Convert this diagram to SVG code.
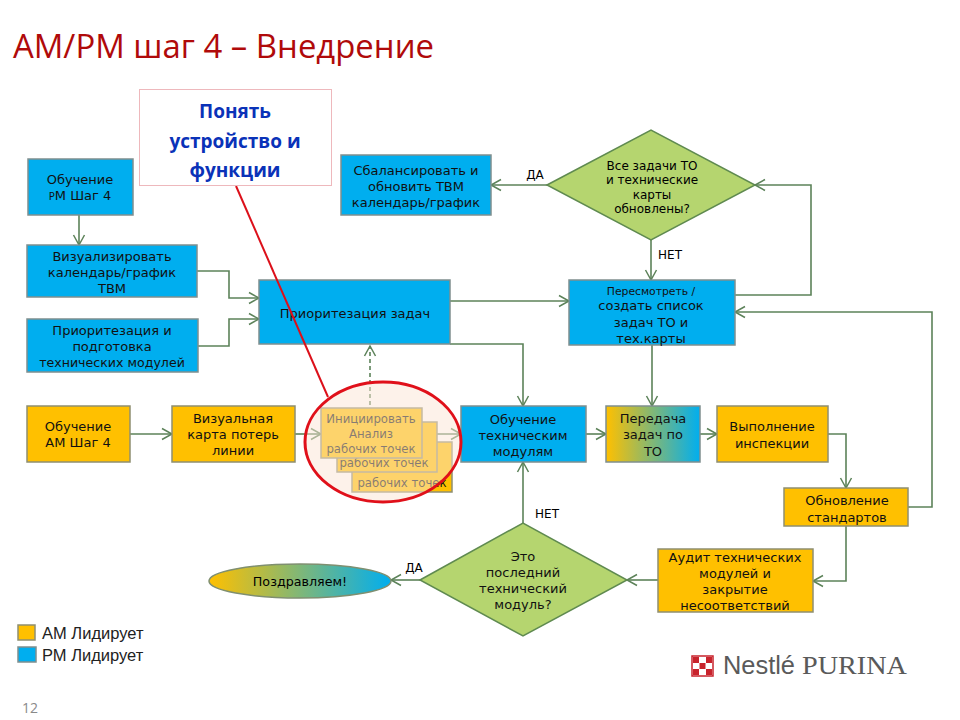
<svg xmlns="http://www.w3.org/2000/svg" width="960" height="720" viewBox="0 0 960 720">
<style>
.n{font:13px "DejaVu Sans",sans-serif;fill:#111;text-anchor:middle}
.s{font-size:12.6px}
.i{font-size:11.7px}
.l{font:12px "DejaVu Sans",sans-serif;fill:#000;text-anchor:middle}
.b{fill:#00aeef;stroke:#7f8f8f;stroke-width:1.5}
.o{fill:#ffc000;stroke:#8f8f70;stroke-width:1.5}
.d{fill:#b5d56f;stroke:#5f8a50;stroke-width:1.5}
.c{fill:none;stroke:#5c8259;stroke-width:1.6;marker-end:url(#a)}
</style>
<defs>
<marker id="a" markerUnits="userSpaceOnUse" markerWidth="14" markerHeight="14" refX="11" refY="7" orient="auto"><path d="M1 1.500L11 7L1 12.500" fill="none" stroke="#5c8259" stroke-width="1.500"/></marker>
<linearGradient id="g"><stop offset="0" stop-color="#ffc000"/><stop offset="1" stop-color="#00aeef"/></linearGradient>
</defs>
<rect width="960" height="720" fill="#fff"/>
<text x="13" y="58" font-family="Open Sans,sans-serif" font-size="33" fill="#b00a0a" textLength="421" lengthAdjust="spacingAndGlyphs">АМ/РМ шаг 4 – Внедрение</text>
<g id="connectors">
<path class="c" d="M79 215V245"/>
<path class="c" d="M197 271H229V298H259"/>
<path class="c" d="M198 346H229V319H259"/>
<path class="c" d="M450 301H569"/>
<path class="c" d="M450 344H523V406"/>
<path class="c" d="M130 434H172"/>
<path class="c" d="M295 434H321"/>
<path class="c" d="M422 434H461"/>
<path class="c" d="M586 434H606"/>
<path class="c" d="M700 434H717"/>
<path class="c" d="M652 345V406"/>
<path class="c" d="M651 240V280"/>
<path class="c" d="M735 295H811V185H755"/>
<path class="c" d="M547 185H491"/>
<path class="c" d="M828 434H846V488"/>
<path class="c" d="M908 507H932V312H735"/>
<path class="c" d="M846 526V581H813"/>
<path class="c" d="M658 580H627"/>
<path class="c" d="M523 523V462"/>
<path class="c" d="M420 580H391"/>
<path class="c" d="M370 405V346" stroke-dasharray="4 3"/>
</g>
<g id="n-pm4"><rect class="b" x="28" y="159" width="105" height="56"/><text class="n" x="80" y="184">Обучение</text><text class="n" x="80" y="200"><tspan font-size="10">Р</tspan>М Шаг 4</text></g>
<g id="n-vis"><rect class="b" x="27" y="245" width="170" height="52"/><text class="n" x="112" y="261">Визуализировать</text><text class="n" x="112" y="277">календарь/график</text><text class="n" x="112" y="293">ТВМ</text></g>
<g id="n-prep"><rect class="b" x="27" y="319" width="171" height="53"/><text class="n" x="112" y="335">Приоритезация и</text><text class="n" x="112" y="351">подготовка</text><text class="n s" x="112" y="367">технических модулей</text></g>
<g id="n-prio"><rect class="b" x="259" y="280" width="191" height="64"/><text class="n" x="355" y="318">Приоритезация задач</text></g>
<g id="n-am4"><rect class="o" x="27" y="406" width="103" height="56"/><text class="n" x="78" y="431">Обучение</text><text class="n" x="78" y="447">АМ Шаг 4</text></g>
<g id="n-map"><rect class="o" x="172" y="406" width="123" height="56"/><text class="n" x="233" y="423">Визуальная</text><text class="n" x="233" y="439">карта потерь</text><text class="n" x="233" y="455">линии</text></g>
<g id="n-train"><rect class="b" x="461" y="406" width="125" height="56"/><text class="n" x="523" y="424">Обучение</text><text class="n" x="523" y="440">техническим</text><text class="n" x="523" y="456">модулям</text></g>
<g id="n-hand"><rect x="606" y="406" width="94" height="56" fill="url(#g)" stroke="#7f8f8f" stroke-width="1.5"/><text class="n" x="653" y="423">Передача</text><text class="n" x="653" y="439">задач по</text><text class="n" x="653" y="456">ТО</text></g>
<g id="n-insp"><rect class="o" x="717" y="406" width="111" height="56"/><text class="n" x="772" y="431">Выполнение</text><text class="n" x="772" y="448">инспекции</text></g>
<g id="n-std"><rect class="o" x="784" y="488" width="124" height="38"/><text class="n" x="847" y="505">Обновление</text><text class="n" x="847" y="522">стандартов</text></g>
<g id="n-audit"><rect class="o" x="658" y="549" width="155" height="63"/><text class="n" x="735" y="562">Аудит технических</text><text class="n" x="735" y="578">модулей и</text><text class="n" x="735" y="594">закрытие</text><text class="n" x="735" y="610">несоответствий</text></g>
<g id="n-review"><rect class="b" x="569" y="280" width="166" height="65"/><text class="n" x="651" y="295" style="font-size:10.8px">Пересмотреть /</text><text class="n" x="651" y="310">создать список</text><text class="n" x="651" y="327">задач ТО и</text><text class="n" x="651" y="343">тех.карты</text></g>
<g id="n-bal"><rect class="b" x="341" y="155" width="150" height="60"/><text class="n" x="416" y="175">Сбалансировать и</text><text class="n" x="416" y="191">обновить ТВМ</text><text class="n" x="416" y="207">календарь/график</text></g>
<g id="n-q1"><path class="d" d="M547 185L651 130L755 185L651 240Z"/><text class="l" x="652" y="170">Все задачи ТО</text><text class="l" x="652" y="184">и технические</text><text class="l" x="652" y="199">карты</text><text class="l" x="652" y="213">обновлены?</text></g>
<g id="n-q2"><path class="d" d="M420 580L523 523L627 580L523 636Z"/><text class="n" x="523" y="561">Это</text><text class="n" x="523" y="577">последний</text><text class="n" x="523" y="593">технический</text><text class="n" x="523" y="609">модуль?</text></g>
<g id="n-end"><ellipse cx="300" cy="581" rx="91" ry="17" fill="url(#g)" stroke="#7f8f70" stroke-width="1.5"/><text class="l" x="300" y="586" style="font-size:12.700px">Поздравляем!</text></g>
<g id="n-init">
<rect class="o" x="352" y="442" width="100" height="50"/><text class="n i" x="402" y="487">рабочих точек</text>
<rect class="o" x="337" y="422" width="100" height="50"/><text class="n i" x="384" y="467">рабочих точек</text>
<rect class="o" x="321" y="408" width="101" height="50"/><text class="n i" x="371" y="423">Инициировать</text><text class="n i" x="371" y="438">Анализ</text><text class="n i" x="371" y="453">рабочих точек</text>
</g>
<g id="callout">
<ellipse cx="383" cy="442" rx="78" ry="60" fill="#fbe5d6" fill-opacity=".5" stroke="#e0101a" stroke-width="3"/>
<path d="M236 186L328 397" fill="none" stroke="#dc101a" stroke-width="2"/>
<rect x="139.500" y="89.500" width="192" height="96" fill="#fff" stroke="#eeb8bc"/>
<g font-family="Open Sans,sans-serif" font-weight="700" font-size="19" fill="#0a32b8" text-anchor="middle"><text x="235" y="118">Понять</text><text x="235" y="148">устройство и</text><text x="235" y="177">функции</text></g>
</g>
<g id="labels"><text class="l" x="535" y="179">ДА</text><text class="l" x="670" y="259">НЕТ</text><text class="l" x="547" y="518">НЕТ</text><text class="l" x="414" y="572">ДА</text></g>
<g id="legend"><rect class="o" x="18" y="625" width="17" height="15"/><rect class="b" x="18" y="647" width="18" height="15"/>
<g font-family="Liberation Sans,sans-serif" font-size="16.500" fill="#222"><text x="42" y="639">АМ Лидирует</text><text x="42" y="661">РМ Лидирует</text></g></g>
<text x="22" y="713" font-family="Open Sans,sans-serif" font-size="14" fill="#8a8a8a">12</text>
<g id="logo">
<rect x="692" y="656" width="21" height="20" fill="#fff" stroke="#c8232c" stroke-width="1.5"/>
<path d="M693 657h6v6h-6zM706 657h6v6h-6zM699.500 663h6v6h-6zM693 669h6v6h-6zM706 669h6v6h-6z" fill="#c8232c"/>
<text x="723" y="674" font-family="Liberation Sans,sans-serif" font-size="25" fill="#5a5a5a" textLength="72" lengthAdjust="spacingAndGlyphs">Nestlé</text>
<text x="802" y="674" font-family="Liberation Serif,serif" font-size="25" fill="#5a5a5a" textLength="105" lengthAdjust="spacingAndGlyphs">PURINA</text>
</g>
</svg>
